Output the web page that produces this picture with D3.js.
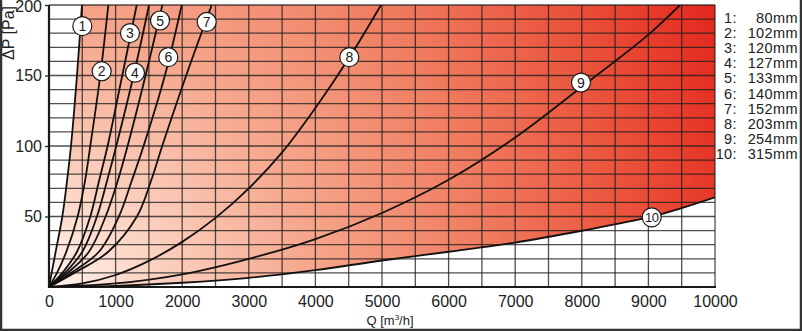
<!DOCTYPE html>
<html>
<head>
<meta charset="utf-8">
<script src="https://cdn.jsdelivr.net/npm/d3@7"></script>
<style>
  html, body { margin: 0; padding: 0; background: #fff; }
  svg { display: block; font-family: "Liberation Sans", Arial, Helvetica, sans-serif; }
</style>
</head>
<body>
<svg id="chart" width="802" height="331"></svg>
<script>
// Pressure drop ΔP [Pa] against air flow Q [m³/h] for ten duct diameters.
const diameters = [80, 102, 120, 127, 133, 140, 152, 203, 254, 315];

// Each curve: [Q, ΔP] pairs
const curve1 = [[0,0],[40,10],[100,25],[200,50],[270,75],[330,100],[420,150],[495,200]];
const curve2 = [[0,0],[120,10],[260,25],[430,50],[540,75],[620,100],[770,150],[891,200]];
const curve3 = [[0,0],[200,10],[420,25],[620,50],[750,75],[880,100],[1100,150],[1317,200]];
const curve4 = [[0,0],[240,10],[500,25],[720,50],[870,75],[1010,100],[1270,150],[1502,200]];
const curve5 = [[0,0],[280,10],[600,25],[850,50],[1030,75],[1180,100],[1450,150],[1702,200]];
const curve6 = [[0,0],[330,10],[750,25],[1050,50],[1240,75],[1420,100],[1740,150],[1993,200]];
const curve7 = [[0,0],[380,10],[890,25],[1320,50],[1530,75],[1700,100],[2060,150],[2443,200]];
const curve8 = [[0,0],[500,2.5],[1000,8.5],[1500,18.5],[2000,32],[2500,49],[3000,70],[3500,95.5],[4000,127],[4500,162],[4985,200]];
const curve9 = [[0,0],[1000,2.5],[2000,9],[3000,20],[4000,34],[5000,52.5],[6000,76],[7000,106],[8000,142],[9000,179],[9475,200]];
const curve10 = [[0,0],[1000,0.8],[2000,3],[3000,6.5],[4000,12],[5000,18.8],[6000,25],[7000,31.5],[8000,39.9],[9000,49.3],[9500,56],[10000,63.6]];
const curves = [curve1, curve2, curve3, curve4, curve5, curve6, curve7, curve8, curve9, curve10];

// Where each numbered marker sits on its curve: [Q, ΔP]
const markerAt = [[500,185],[791,153],[1216,180],[1291,152],[1667,189],[1791,163],[2368,188],[4509,163],[7988,145],[9050,49.4]];

const xTicks = [0,1000,2000,3000,4000,5000,6000,7000,8000,9000,10000];
const yTicks = [50,100,150,200];

const svg = d3.select("#chart");
const x = d3.scaleLinear().domain([0, 10000]).range([49, 715]);
const y = d3.scaleLinear().domain([0, 200]).range([287, 5]);

const line = d3.line().x(d => x(d[0])).y(d => y(d[1])).curve(d3.curveCatmullRom.alpha(0.5));

// Gradient for the shaded operating zone
const defs = svg.append("defs");
const grad = defs.append("radialGradient")
  .attr("id", "zone").attr("gradientUnits", "userSpaceOnUse")
  .attr("cx", x(0)).attr("cy", y(0)).attr("r", 730);
[[0, "#fff4ef"], [0.12, "#fcd8c8"], [0.35, "#f6a88e"], [0.6, "#f07b5f"], [0.82, "#ea4e38"], [1, "#e3251d"]]
  .forEach(([o, c]) => grad.append("stop").attr("offset", o).attr("stop-color", c));

// Zone lies right of the smallest duct curve and above the largest one
defs.append("clipPath").attr("id", "rightOfFirst").append("path")
  .attr("d", line(curve1) + `L${x(10000)},${y(200)}L${x(10000)},${y(0)}Z`);
defs.append("clipPath").attr("id", "aboveLast").append("path")
  .attr("d", line(curve10) + `L${x(10000)},${y(200)}L${x(0)},${y(200)}Z`);

svg.append("g").attr("clip-path", "url(#rightOfFirst)")
  .append("rect").attr("clip-path", "url(#aboveLast)")
  .attr("x", x(0)).attr("y", y(200))
  .attr("width", x(10000) - x(0)).attr("height", y(0) - y(200))
  .attr("fill", "url(#zone)");

// Grid
const grid = svg.append("g").attr("stroke", "#1e1e1e").attr("stroke-opacity", 0.78).attr("stroke-width", 1.3);
grid.selectAll("line.v").data(d3.range(500, 10001, 500)).join("line")
  .attr("x1", d => x(d)).attr("x2", d => x(d)).attr("y1", y(0)).attr("y2", y(200));
grid.selectAll("line.h").data(d3.range(10, 201, 10)).join("line")
  .attr("x1", x(0)).attr("x2", x(10000)).attr("y1", d => y(d)).attr("y2", d => y(d));

// Axes
const yAxis = d3.axisLeft(y).tickValues(yTicks).tickSize(4).tickPadding(3);
const gy = svg.append("g").attr("transform", `translate(${x(0)},0)`).call(yAxis);
gy.select(".domain").remove();
gy.selectAll(".tick line").attr("stroke", "#222").attr("stroke-width", 1.3);
gy.selectAll("text").attr("font-size", 16).attr("fill", "#222").attr("font-family", "Liberation Sans, Arial, sans-serif");
gy.selectAll(".tick").filter(d => d === 200).select("text").attr("dy", "0.42em");

const xAxis = d3.axisBottom(x).tickValues(xTicks).tickSize(0).tickPadding(9).tickFormat(d3.format("d"));
const gx = svg.append("g").attr("transform", `translate(0,${y(0)})`).call(xAxis);
gx.select(".domain").remove();
gx.selectAll("text").attr("font-size", 16).attr("fill", "#222").attr("font-family", "Liberation Sans, Arial, sans-serif");

svg.append("line").attr("x1", x(0)).attr("x2", x(0)).attr("y1", y(0) + 1).attr("y2", y(200))
  .attr("stroke", "#1a1a1a").attr("stroke-width", 2.2);
svg.append("line").attr("x1", x(0) - 1).attr("x2", x(10000) + 1).attr("y1", y(0)).attr("y2", y(0))
  .attr("stroke", "#1a1a1a").attr("stroke-width", 2.2);

// Curves
svg.append("defs").append("clipPath").attr("id", "plot").append("rect")
  .attr("x", x(0)).attr("y", y(200)).attr("width", x(10000) - x(0)).attr("height", y(0) - y(200));
svg.append("g").attr("clip-path", "url(#plot)")
  .selectAll("path").data(curves).join("path")
  .attr("d", line).attr("fill", "none").attr("stroke", "#141010").attr("stroke-width", 1.8);

// Numbered markers
const marks = svg.append("g").selectAll("g").data(markerAt).join("g")
  .attr("transform", d => `translate(${x(d[0])},${y(d[1])})`);
marks.append("circle").attr("r", 9.5).attr("fill", "#fff").attr("stroke", "#1a1a1a").attr("stroke-width", 1.2);
marks.append("text").text((d, i) => i + 1)
  .attr("text-anchor", "middle").attr("dy", "0.36em")
  .attr("font-size", (d, i) => i === 9 ? 13 : 14).attr("fill", "#1a1a1a")
  .attr("letter-spacing", (d, i) => i === 9 ? -0.5 : 0);

// Axis titles
const qt = svg.append("text").attr("x", 390).attr("y", 325).attr("text-anchor", "middle")
  .attr("font-size", 13).attr("fill", "#222");
qt.append("tspan").text("Q [m");
qt.append("tspan").text("3").attr("font-size", 8).attr("dy", -5);
qt.append("tspan").text("/h]").attr("dy", 5);

svg.append("text").attr("transform", "translate(14,33) rotate(-90)")
  .attr("text-anchor", "middle").attr("font-size", 16).attr("fill", "#222").text("ΔP [Pa]");

// Legend
const legend = svg.append("g").selectAll("g").data(diameters).join("g")
  .attr("transform", (d, i) => `translate(0,${23 + i * 15.1})`);
legend.append("text").attr("x", 737).attr("text-anchor", "end")
  .attr("font-size", 14.5).attr("letter-spacing", 0.4).attr("fill", "#222").text((d, i) => `${i + 1}:`);
legend.append("text").attr("x", 798).attr("text-anchor", "end")
  .attr("font-size", 14.5).attr("letter-spacing", 0.4).attr("fill", "#222").text(d => `${d}mm`);

// Outer frame
svg.append("rect").attr("x", 0).attr("y", -10).attr("width", 802).attr("height", 341)
  .attr("fill", "none").attr("stroke", "#333").attr("stroke-width", 4.5);
</script>
</body>
</html>
